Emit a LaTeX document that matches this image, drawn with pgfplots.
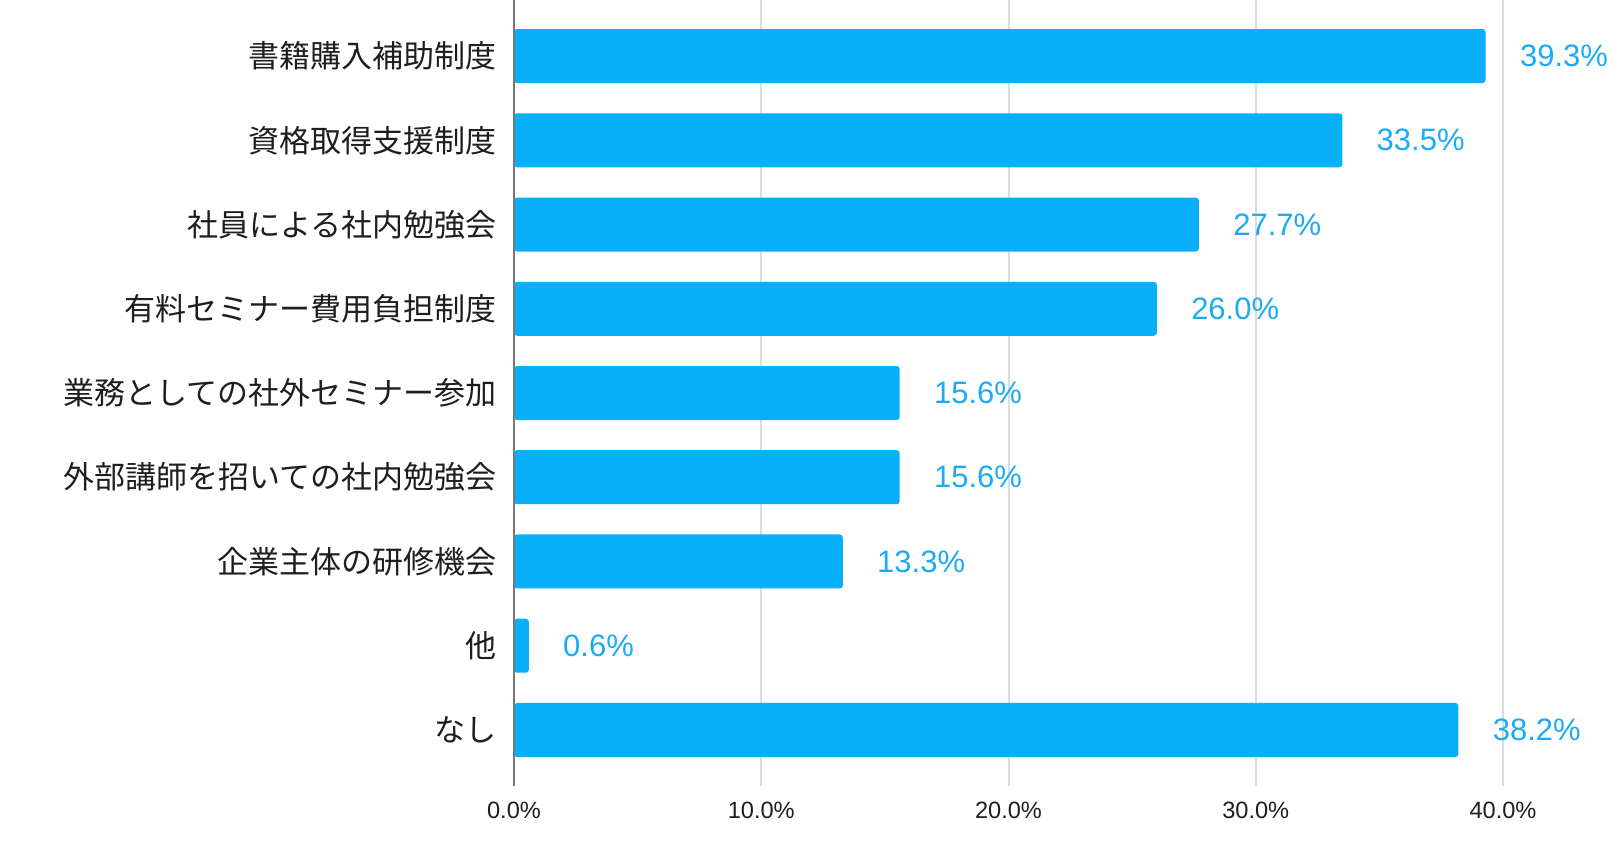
\documentclass[border=0pt]{standalone}
\usepackage{fontspec}
\setmainfont{Liberation Sans}
\newfontfamily\cjk{Noto Sans CJK JP}
\usepackage{pgfplots}
\pgfplotsset{compat=1.18}
\definecolor{barblue}{RGB}{8,176,250}
\definecolor{lblblue}{RGB}{28,170,245}
\definecolor{gridgray}{RGB}{220,220,220}
\definecolor{axisgray}{RGB}{120,120,120}
\definecolor{txt}{RGB}{30,30,30}
\begin{document}
\begin{tikzpicture}
\path[use as bounding box] (0,0) rectangle (811pt,425pt);
\begin{axis}[
  at={(257pt,32pt)}, anchor=south west,
  scale only axis, width=494.5pt, height=393pt,
  xbar, bar width=27pt,
  xmin=0, xmax=40, ymin=-0.665, ymax=8.665, y dir=reverse,
  ytick={0,...,8},
  yticklabels={書籍購入補助制度,資格取得支援制度,社員による社内勉強会,有料セミナー費用負担制度,業務としての社外セミナー参加,外部講師を招いての社内勉強会,企業主体の研修機会,他,なし},
  yticklabel style={font=\cjk\fontsize{15.5pt}{18pt}\selectfont, text=txt, anchor=east, inner sep=0pt, xshift=-8.5pt},
  xtick={0,10,20,30,40},
  xticklabels={0.0\%,10.0\%,20.0\%,30.0\%,40.0\%},
  xticklabel style={font=\fontsize{11.8pt}{14pt}\selectfont, text=txt, anchor=center, inner sep=0pt, yshift=-12pt},
  xmajorgrids, grid style={gridgray, line width=1pt},
  major tick length=0pt,
  axis line style={draw=none},
  clip=false,
  /pgf/number format/assume math mode=true,
  nodes near coords={\pgfmathprintnumber[fixed,fixed zerofill,precision=1]{\pgfplotspointmeta}\%},
  every node near coord/.append style={anchor=west, inner sep=0pt, xshift=17pt, font=\fontsize{15.5pt}{18pt}\selectfont, text=lblblue},
]
\addplot[fill=barblue, draw=none, rounded corners=1.5pt] coordinates {
  (39.3,0) (33.5,1) (27.7,2) (26.0,3) (15.6,4) (15.6,5) (13.3,6) (0.6,7) (38.2,8)
};
\draw[axisgray, line width=1pt] (axis cs:0,-0.665) -- (axis cs:0,8.665);
\end{axis}
\end{tikzpicture}
\end{document}
